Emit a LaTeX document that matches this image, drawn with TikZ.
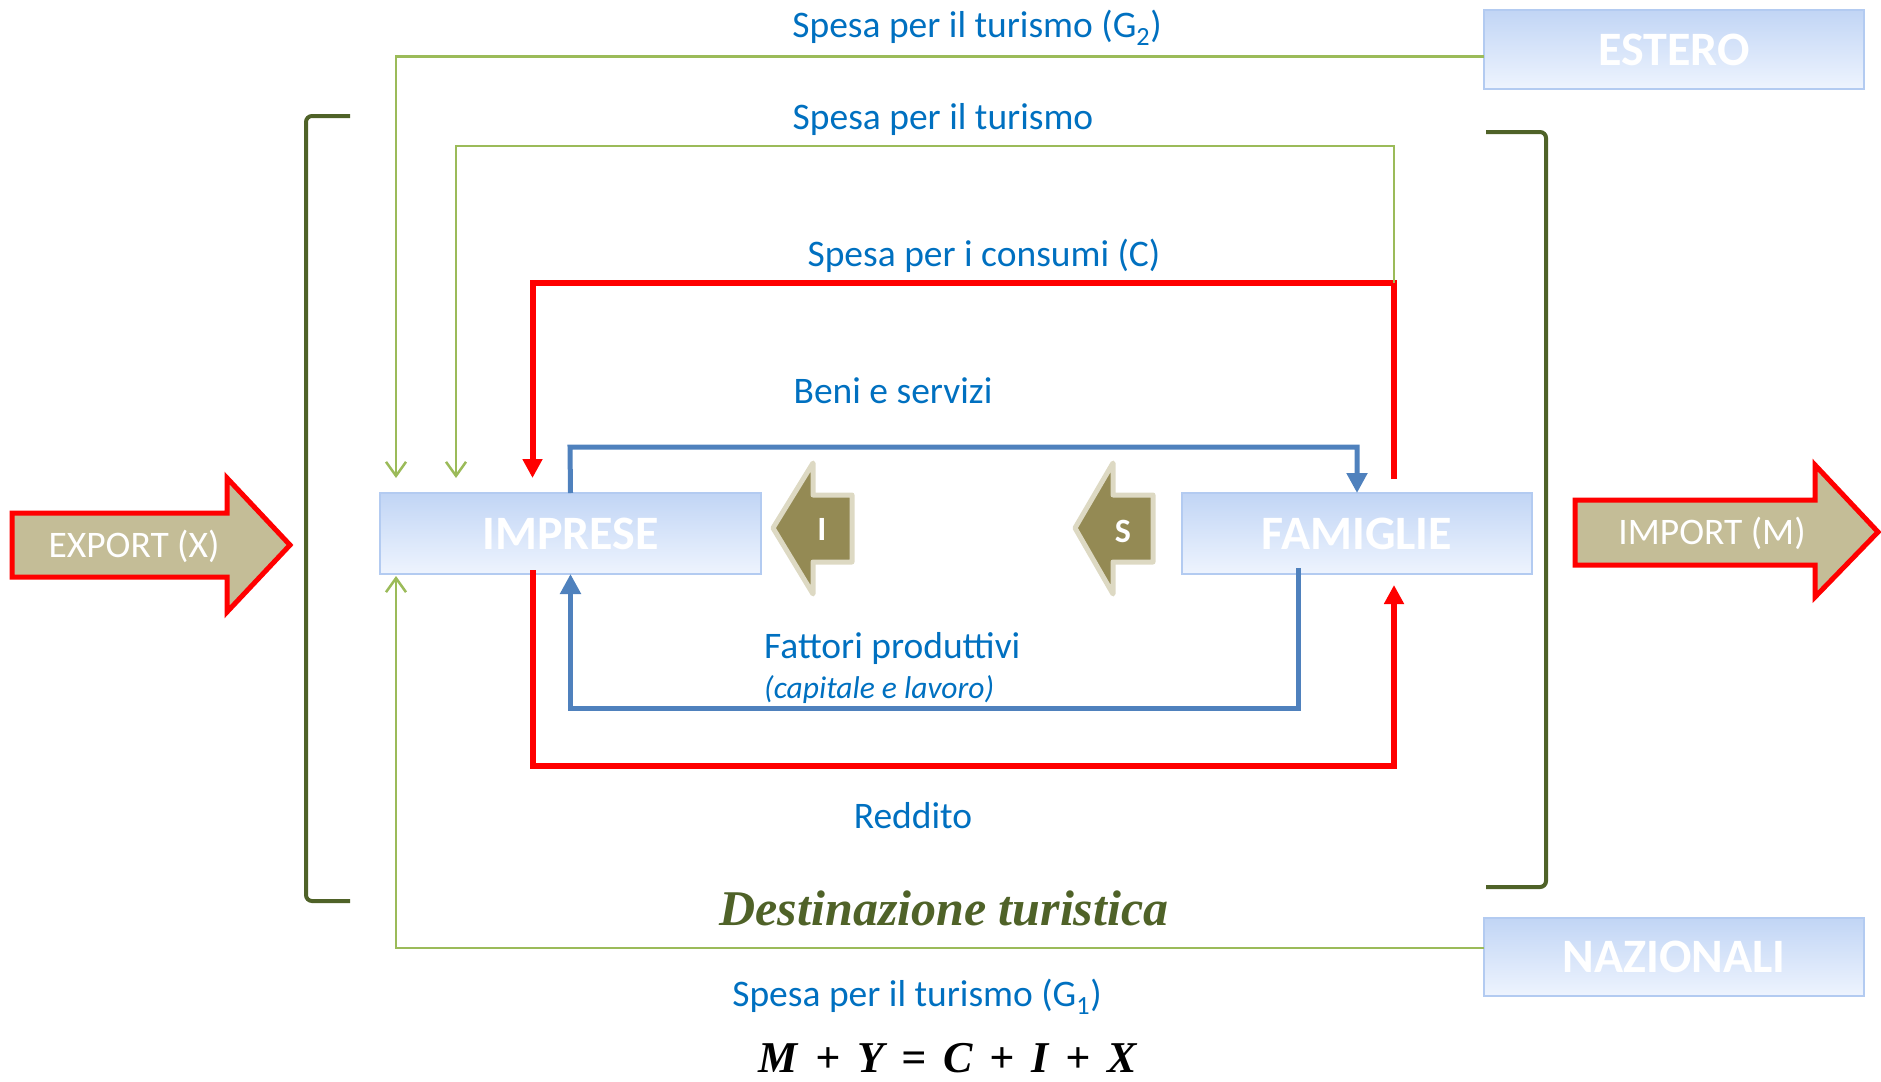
\documentclass[tikz,border=0pt]{standalone}
\usepackage{fontspec}
\setmainfont{Carlito}
\newfontfamily\timesfam{Liberation Serif}
\usetikzlibrary{arrows.meta}

\definecolor{labelblue}{HTML}{0070C0}
\definecolor{flowblue}{HTML}{4F81BD}
\definecolor{flowgreen}{HTML}{9BBB59}
\definecolor{bracketgreen}{HTML}{4F6228}
\definecolor{savingolive}{HTML}{948A54}
\definecolor{savingedge}{HTML}{DDD9C3}
\definecolor{tradetan}{HTML}{C4BD97}
\definecolor{sectortop}{HTML}{C1D5F5}
\definecolor{sectorbottom}{HTML}{EEF4FE}
\definecolor{sectoredge}{HTML}{B3CBF1}

\tikzset{
  sector/.style={draw=sectoredge, line width=1.5pt, top color=sectortop,
    bottom color=sectorbottom, inner sep=0pt, outer sep=0pt, text=white,
    font=\fontsize{48}{56}\selectfont\bfseries},
  lbl/.style={text=labelblue, inner sep=0pt, font=\fontsize{37.5}{44}\selectfont},
  redflow/.style={draw=red, line width=6pt,
    -{Triangle[length=19pt,width=19pt]}},
  blueflow/.style={draw=flowblue, line width=5pt,
    -{Triangle[length=20pt,width=20pt]}},
  greenflow/.style={draw=flowgreen, line width=2.5pt,
    -{Straight Barb[length=14pt,width=20pt,line width=2.5pt]}},
  bracketline/.style={draw=bracketgreen, line width=4pt, rounded corners=6pt},
  savingarrow/.style={fill=savingolive, draw=savingedge, line width=5pt,
    line join=round},
  tradearrow/.style={fill=tradetan, draw=red, line width=5pt},
  tradetext/.style={text=white, inner sep=0pt, font=\fontsize{37.5}{44}\selectfont},
  savingtext/.style={text=white, inner sep=0pt,
    font=\fontsize{34}{40}\selectfont\bfseries},
}

\begin{document}
\begin{tikzpicture}[x=1pt,y=-1pt]
\useasboundingbox (0,0) rectangle (1881,1081);

% sectors
\node[sector, minimum width=381pt, minimum height=81pt] (imp) at (570.5,533.5) {IMPRESE};
\node[sector, minimum width=350pt, minimum height=81pt] (fam) at (1357,533.5) {FAMIGLIE};
\node[sector, minimum width=380pt, minimum height=79pt] (est) at (1674,49.5) {ESTERO};
\node[sector, minimum width=380pt, minimum height=78pt] (naz) at (1674,957) {NAZIONALI};

% brackets around the tourist destination
\draw[bracketline] (350,116) -- (306,116) -- (306,901) -- (350,901);
\draw[bracketline] (1486,132) -- (1546,132) -- (1546,887) -- (1486,887);

% real flows
\draw[blueflow] (imp.north) -- (570,447) -| (fam.north);
\draw[blueflow] ([xshift=-59pt,yshift=6pt]fam.south) -- (1298,708) -| (imp.south);

% monetary flows
\coordinate (cons) at (1394,283);
\draw[redflow] ([xshift=37pt,yshift=14pt]fam.north) -- (cons)
  -| ([xshift=-38pt,yshift=15pt]imp.north);
\draw[redflow] ([xshift=-38pt,yshift=4pt]imp.south) -- (532.5,766)
  -| ([xshift=37pt,yshift=-11pt]fam.south);

% tourist spending
\draw[greenflow] ([yshift=-7pt]est.west) -| ([xshift=16pt,yshift=15pt]imp.north west);
\draw[greenflow] (cons) -- (1394,146) -| ([xshift=76pt,yshift=15pt]imp.north west);
\draw[greenflow] ([yshift=9pt]naz.west) -| ([xshift=16pt,yshift=-2pt]imp.south west);

% investment and saving arrows
\path[savingarrow] (773,528) -- (813,463) -- (813,495) -- (852,495) -- (852,562)
  -- (813,562) -- (813,594) -- cycle;
\node[savingtext] (inv) at (822,529) {I};
\path[savingarrow] (1075,528) -- (1113,463) -- (1113,495) -- (1153,495) -- (1153,562)
  -- (1113,562) -- (1113,594) -- cycle;
\node[savingtext] (sav) at (1123,531) {S};

% export and import
\path[tradearrow] (12,513) -- (227,513) -- (227,478) -- (290,545) -- (227,612)
  -- (227,577) -- (12,577) -- cycle;
\node[tradetext] (exp) at (134,546) {EXPORT (X)};
\path[tradearrow] (1575,500) -- (1815,500) -- (1815,465) -- (1878,532) -- (1815,597)
  -- (1815,565) -- (1575,565) -- cycle;
\node[tradetext] (imq) at (1712,533) {IMPORT (M)};

% labels
\node[lbl] (lg2) at (977,28) {Spesa per il turismo (G\textsubscript{2})};
\node[lbl] (ltur) at (943,120) {Spesa per il turismo};
\node[lbl] (lcons) at (984,256) {Spesa per i consumi (C)};
\node[lbl] (lbeni) at (893,391) {Beni e servizi};
\node[lbl, anchor=west] (lfatt) at (764,648) {Fattori produttivi};
\node[lbl, anchor=west, font=\fontsize{31.5}{36}\selectfont\itshape] (lcap) at (764,690) {(capitale e lavoro)};
\node[lbl] (lred) at (913,816) {Reddito};
\node[text=bracketgreen, inner sep=0pt, font=\timesfam\bfseries\itshape\fontsize{50}{56}\selectfont] (ldest) at (944,908) {Destinazione turistica};
\node[lbl] (lg1) at (917,997) {Spesa per il turismo (G\textsubscript{1})};
\node[inner sep=0pt, font=\timesfam\bfseries\itshape\fontsize{44}{50}\selectfont] (eq) at (948,1058)
  {M\hspace{17pt}+\hspace{17pt}Y\hspace{17pt}=\hspace{17pt}C\hspace{17pt}+\hspace{17pt}I\hspace{17pt}+\hspace{17pt}X};
\end{tikzpicture}
\end{document}
